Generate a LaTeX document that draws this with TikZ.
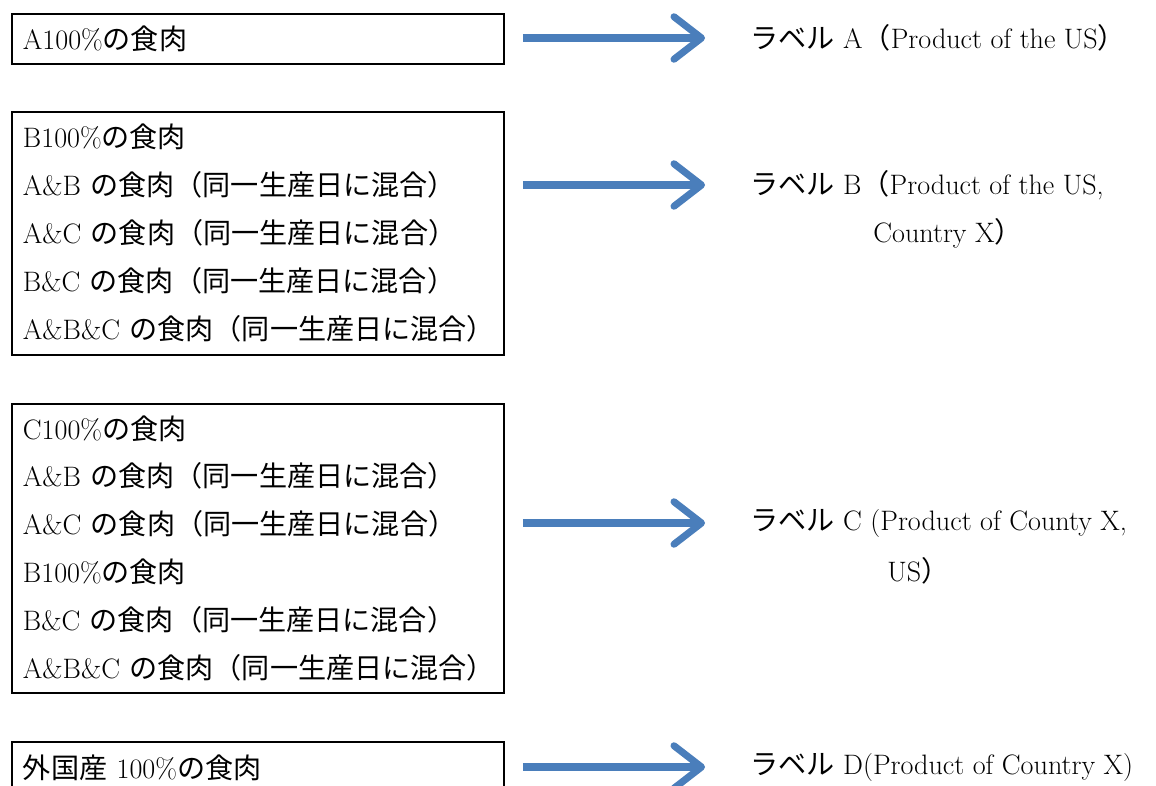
\documentclass[tikz,border=0pt]{standalone}
\usepackage{fontspec}
\newfontfamily\jp{Noto Sans CJK JP}
\usetikzlibrary{arrows.meta, positioning}
\definecolor{flowblue}{RGB}{74, 126, 187}

\begin{document}
\begin{tikzpicture}[
  x=0.02cm, y=-0.02cm,
  meatbox/.style={draw, line width=1.1pt, anchor=north west, text width=9.4cm, inner xsep=0.22cm, inner ysep=0pt, align=left, font=\fontsize{16}{27.3}\selectfont},
  labeltext/.style={anchor=west, inner sep=0pt, font=\fontsize{16}{19}\selectfont},
  flow/.style={draw=flowblue, line width=4pt, -{Straight Barb[length=0.55cm, width=0.85cm, round]}, shorten <=0.36cm, shorten >=0.9cm}
]
  \useasboundingbox (0,0) rectangle (1156,785);
  \clip (0,0) rectangle (1156,785);

  % meat groups
  \node[meatbox, minimum height=1cm] (bxA) at (11,13) {A100\%{\jp の食肉}};
  \node[meatbox, minimum height=4.86cm] (bxB) at (11,111) {
    B100\%{\jp の食肉}\\
    A\&B~{\jp の食肉（同一生産日に混合）}\\
    A\&C~{\jp の食肉（同一生産日に混合）}\\
    B\&C~{\jp の食肉（同一生産日に混合）}\\
    A\&B\&C~{\jp の食肉（同一生産日に混合）}
  };
  \node[meatbox, minimum height=5.78cm] (bxC) at (11,403) {
    C100\%{\jp の食肉}\\
    A\&B~{\jp の食肉（同一生産日に混合）}\\
    A\&C~{\jp の食肉（同一生産日に混合）}\\
    B100\%{\jp の食肉}\\
    B\&C~{\jp の食肉（同一生産日に混合）}\\
    A\&B\&C~{\jp の食肉（同一生産日に混合）}
  };
  \node[meatbox, minimum height=1.04cm] (bxD) at (11,741) {{\jp 外国産}~100\%{\jp の食肉}};

  % labels
  \node[labeltext] (lbA) at (750,38) {{\jp ラベル} A{\jp （}Product of the US{\jp ）}};
  \node[labeltext] (lbB) at (750,185) {{\jp ラベル} B{\jp （}Product of the US,};
  \node[labeltext] (lbB2) at (873,233) {Country X{\jp ）}};
  \node[labeltext] (lbC) at (750,523) {{\jp ラベル} C (Product of County X,};
  \node[labeltext] (lbC2) at (887,571) {US{\jp ）}};
  \node[labeltext] (lbD) at (750,767) {{\jp ラベル} D(Product of Country X)};

  % arrows
  \draw[flow] (bxA.east |- lbA.west) -- (lbA.west);
  \draw[flow] (bxB.east |- lbB.west) -- (lbB.west);
  \draw[flow] (bxC.east |- lbC.west) -- (lbC.west);
  \draw[flow] (bxD.east |- lbD.west) -- (lbD.west);
\end{tikzpicture}
\end{document}
